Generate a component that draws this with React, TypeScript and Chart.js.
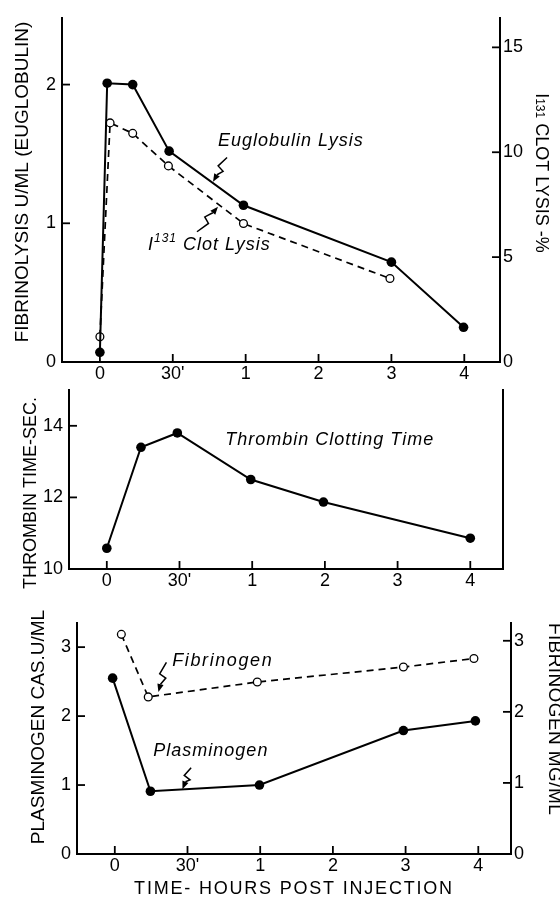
import React, { useEffect, useRef } from 'react';
import { Chart, registerables } from 'chart.js';

Chart.register(...registerables);

const W = 560;
const H = 898;
const FONT = "'Liberation Sans', Arial, sans-serif";

// ---- shared x axis (tick positions are evenly spaced, labels are non-linear in time) ----
const xTickPositions = [0, 1, 2, 3, 4, 5];
const xTickLabels = ['0', "30'", '1', '2', '3', '4'];

// ---- panel 1: fibrinolysis ----
const euglobulinX = [0, 0.1, 0.45, 0.95, 1.97, 4.0, 4.99];
const euglobulinUml = [0.07, 2.01, 2.0, 1.52, 1.13, 0.72, 0.25];
const clotLysisX = [0, 0.14, 0.45, 0.94, 1.97, 3.98];
const clotLysisPct = [1.2, 11.4, 10.9, 9.35, 6.6, 3.98];
const fibrinolysisTicks = [0, 1, 2];
const clotLysisTicks = [0, 5, 10, 15];

// ---- panel 2: thrombin clotting time ----
const thrombinX = [0, 0.47, 0.97, 1.98, 2.98, 5.0];
const thrombinSec = [10.58, 13.4, 13.8, 12.5, 11.87, 10.86];
const thrombinTicks = [10, 12, 14];

// ---- panel 3: plasminogen / fibrinogen ----
const plasminogenX = [-0.03, 0.49, 1.99, 3.97, 4.96];
const plasminogenCas = [2.55, 0.91, 1.0, 1.79, 1.93];
const fibrinogenX = [0.09, 0.46, 1.96, 3.97, 4.94];
const fibrinogenMg = [3.09, 2.21, 2.42, 2.63, 2.75];
const plasminogenTicks = [0, 1, 2, 3];
const fibrinogenTicks = [0, 1, 2, 3];

const pts = (xs: number[], ys: number[]) => xs.map((x, i) => ({ x, y: ys[i] }));

const solidSeries = (label: string, data: any[], yAxisID = 'y') => ({
  label,
  data,
  yAxisID,
  borderColor: '#000',
  borderWidth: 2,
  pointRadius: 4.8,
  pointBackgroundColor: '#000',
  pointBorderColor: '#000',
  pointBorderWidth: 0,
  tension: 0,
  fill: false,
});

const dashedSeries = (label: string, data: any[], yAxisID = 'y1') => ({
  label,
  data,
  yAxisID,
  borderColor: '#000',
  borderWidth: 1.7,
  borderDash: [7, 5],
  pointRadius: 3.9,
  pointBackgroundColor: '#fff',
  pointBorderColor: '#000',
  pointBorderWidth: 1.3,
  tension: 0,
  fill: false,
});

const tickFont = { family: FONT, size: 18, lineHeight: 1 };
const italic = `italic 18px ${FONT}`;
const upright = (s: number) => `${s}px ${FONT}`;

// inward tick marks for all axes
const tickMarks = {
  id: 'tickMarks',
  afterDraw(chart: any) {
    const ctx = chart.ctx;
    const a = chart.chartArea;
    const len = 8;
    ctx.save();
    ctx.strokeStyle = '#000';
    ctx.lineWidth = 1.8;
    Object.values(chart.scales).forEach((s: any) => {
      if (!s.options.display || !s.options.ticks.display) return;
      s.ticks.forEach((t: any) => {
        const p = s.getPixelForValue(t.value);
        ctx.beginPath();
        if (s.axis === 'x') {
          ctx.moveTo(p, a.bottom);
          ctx.lineTo(p, a.bottom - len);
        } else if (s.position === 'left') {
          ctx.moveTo(a.left, p);
          ctx.lineTo(a.left + len, p);
        } else {
          ctx.moveTo(a.right, p);
          ctx.lineTo(a.right - len, p);
        }
        ctx.stroke();
      });
    });
    ctx.restore();
  },
};

type Part = { t: string; font: string; dy?: number };

function drawRich(ctx: any, parts: Part[], x: number, y: number, angle: number, align: 'left' | 'center', spacing: number) {
  ctx.save();
  ctx.translate(x, y);
  ctx.rotate(angle);
  ctx.fillStyle = '#000';
  ctx.textAlign = 'left';
  ctx.textBaseline = 'middle';
  ctx.letterSpacing = spacing + 'px';
  const widths = parts.map((p) => {
    ctx.font = p.font;
    return ctx.measureText(p.t).width;
  });
  const total = widths.reduce((a, b) => a + b, 0);
  let cx = align === 'center' ? -total / 2 : 0;
  parts.forEach((p, i) => {
    ctx.font = p.font;
    ctx.fillText(p.t, cx, p.dy || 0);
    cx += widths[i];
  });
  ctx.restore();
}

function squiggle(ctx: any, x0: number, y0: number, x1: number, y1: number) {
  const dx = x1 - x0;
  const dy = y1 - y0;
  const L = Math.hypot(dx, dy);
  const ux = dx / L;
  const uy = dy / L;
  const nx = -uy;
  const ny = ux;
  const P = (t: number, o: number): [number, number] => [x0 + dx * t + nx * o, y0 + dy * t + ny * o];
  const head = 8;
  ctx.save();
  ctx.strokeStyle = '#000';
  ctx.fillStyle = '#000';
  ctx.lineWidth = 1.5;
  ctx.beginPath();
  ctx.moveTo(x0, y0);
  ctx.lineTo(...P(0.42, 3.5));
  ctx.lineTo(...P(0.5, -3.5));
  ctx.lineTo(x1 - ux * head, y1 - uy * head);
  ctx.stroke();
  ctx.beginPath();
  ctx.moveTo(x1, y1);
  ctx.lineTo(x1 - ux * head + nx * 3.2, y1 - uy * head + ny * 3.2);
  ctx.lineTo(x1 - ux * head - nx * 3.2, y1 - uy * head - ny * 3.2);
  ctx.closePath();
  ctx.fill();
  ctx.restore();
}

type Area = { left: number; top: number; right: number; bottom: number };

function panelConfig(o: {
  area: Area;
  xMin: number;
  xMax: number;
  y: { min: number; max: number; ticks: number[] };
  y1: { min: number; max: number; ticks: number[] | null };
  datasets: any[];
  overlay: (chart: any) => void;
}) {
  const xAxisH = 24;
  const border = { display: true, color: '#000', width: 2 };
  return {
    type: 'line',
    data: { datasets: o.datasets },
    options: {
      responsive: false,
      animation: false,
      events: [],
      layout: { padding: { top: o.area.top, left: 0, right: 0, bottom: H - o.area.bottom - xAxisH } },
      plugins: { legend: { display: false }, tooltip: { enabled: false } },
      scales: {
        x: {
          type: 'linear',
          position: 'bottom',
          min: o.xMin,
          max: o.xMax,
          afterBuildTicks: (s: any) => {
            s.ticks = xTickPositions.map((v) => ({ value: v }));
          },
          afterFit: (s: any) => {
            s.height = xAxisH;
          },
          ticks: {
            autoSkip: false,
            maxRotation: 0,
            padding: 3,
            color: '#000',
            font: tickFont,
            callback: (_v: any, i: number) => xTickLabels[i],
          },
          grid: { display: false, drawTicks: false },
          border,
        },
        y: {
          type: 'linear',
          position: 'left',
          min: o.y.min,
          max: o.y.max,
          afterBuildTicks: (s: any) => {
            s.ticks = o.y.ticks.map((v) => ({ value: v }));
          },
          afterFit: (s: any) => {
            s.width = o.area.left;
          },
          ticks: { padding: 6, color: '#000', font: tickFont },
          grid: { display: false, drawTicks: false },
          border,
        },
        y1: {
          type: 'linear',
          position: 'right',
          min: o.y1.min,
          max: o.y1.max,
          afterBuildTicks: (s: any) => {
            s.ticks = (o.y1.ticks || []).map((v) => ({ value: v }));
          },
          afterFit: (s: any) => {
            s.width = W - o.area.right;
          },
          ticks: { display: !!o.y1.ticks, padding: 3, color: '#000', font: tickFont },
          grid: { display: false, drawTicks: false },
          border,
        },
      },
    },
    plugins: [tickMarks, { id: 'overlay', afterDraw: o.overlay }],
  };
}

const config1 = () =>
  panelConfig({
    area: { left: 62, top: 18, right: 500, bottom: 362 },
    xMin: -0.52,
    xMax: 5.49,
    y: { min: 0, max: 2.48, ticks: fibrinolysisTicks },
    y1: { min: 0, max: 16.4, ticks: clotLysisTicks },
    datasets: [
      solidSeries('Euglobulin Lysis', pts(euglobulinX, euglobulinUml), 'y'),
      dashedSeries('I131 Clot Lysis', pts(clotLysisX, clotLysisPct), 'y1'),
    ],
    overlay: (chart: any) => {
      const ctx = chart.ctx;
      const X = (v: number) => chart.scales.x.getPixelForValue(v);
      const Y = (v: number) => chart.scales.y.getPixelForValue(v);
      drawRich(ctx, [{ t: 'FIBRINOLYSIS U/ML (EUGLOBULIN)', font: upright(19) }], 23, 182, -Math.PI / 2, 'center', 0);
      drawRich(
        ctx,
        [
          { t: 'I', font: upright(18) },
          { t: '131', font: upright(12), dy: 2 },
          { t: ' CLOT LYSIS -%', font: upright(18) },
        ],
        541,
        173,
        Math.PI / 2,
        'center',
        0
      );
      drawRich(ctx, [{ t: 'Euglobulin Lysis', font: italic }], X(1.62), Y(1.59), 0, 'left', 1);
      squiggle(ctx, X(1.745), Y(1.474), X(1.552), Y(1.3));
      drawRich(
        ctx,
        [
          { t: 'I', font: italic },
          { t: '131', font: `italic 12px ${FONT}`, dy: -7 },
          { t: ' Clot Lysis', font: italic },
        ],
        X(0.66),
        Y(0.84),
        0,
        'left',
        1
      );
      squiggle(ctx, X(1.332), Y(0.939), X(1.62), Y(1.12));
    },
  });

const config2 = () =>
  panelConfig({
    area: { left: 69, top: 390, right: 503, bottom: 569 },
    xMin: -0.52,
    xMax: 5.45,
    y: { min: 10, max: 15, ticks: thrombinTicks },
    y1: { min: 0, max: 1, ticks: null },
    datasets: [solidSeries('Thrombin Clotting Time', pts(thrombinX, thrombinSec), 'y')],
    overlay: (chart: any) => {
      const ctx = chart.ctx;
      const X = (v: number) => chart.scales.x.getPixelForValue(v);
      const Y = (v: number) => chart.scales.y.getPixelForValue(v);
      drawRich(ctx, [{ t: 'THROMBIN TIME-SEC.', font: upright(18) }], 31, 493, -Math.PI / 2, 'center', 0);
      drawRich(ctx, [{ t: 'Thrombin Clotting Time', font: italic }], X(1.63), Y(13.6), 0, 'left', 1);
    },
  });

const config3 = () =>
  panelConfig({
    area: { left: 77, top: 623, right: 511, bottom: 854 },
    xMin: -0.52,
    xMax: 5.45,
    y: { min: 0, max: 3.35, ticks: plasminogenTicks },
    y1: { min: 0, max: 3.25, ticks: fibrinogenTicks },
    datasets: [
      solidSeries('Plasminogen', pts(plasminogenX, plasminogenCas), 'y'),
      dashedSeries('Fibrinogen', pts(fibrinogenX, fibrinogenMg), 'y1'),
    ],
    overlay: (chart: any) => {
      const ctx = chart.ctx;
      const X = (v: number) => chart.scales.x.getPixelForValue(v);
      const Y = (v: number) => chart.scales.y.getPixelForValue(v);
      drawRich(ctx, [{ t: 'PLASMINOGEN CAS.U/ML', font: upright(19) }], 39, 727, -Math.PI / 2, 'center', 0);
      drawRich(ctx, [{ t: 'FIBRINOGEN MG/ML', font: upright(19) }], 554, 719, Math.PI / 2, 'center', 0.4);
      drawRich(ctx, [{ t: 'TIME- HOURS POST INJECTION', font: upright(18) }], 294, 889, 0, 'center', 1.8);
      drawRich(ctx, [{ t: 'Fibrinogen', font: italic }], X(0.79), Y(2.8), 0, 'left', 1.6);
      squiggle(ctx, X(0.71), Y(2.78), X(0.6), Y(2.35));
      drawRich(ctx, [{ t: 'Plasminogen', font: italic }], X(0.53), Y(1.49), 0, 'left', 1);
      squiggle(ctx, X(1.05), Y(1.25), X(0.93), Y(0.94));
    },
  });

export default function App() {
  const r1 = useRef<HTMLCanvasElement>(null);
  const r2 = useRef<HTMLCanvasElement>(null);
  const r3 = useRef<HTMLCanvasElement>(null);

  useEffect(() => {
    const charts: Chart[] = [];
    charts.push(new Chart(r1.current as any, config1() as any));
    charts.push(new Chart(r2.current as any, config2() as any));
    charts.push(new Chart(r3.current as any, config3() as any));
    return () => charts.forEach((c) => c.destroy());
  }, []);

  const cs: React.CSSProperties = { position: 'absolute', left: 0, top: 0, width: W, height: H };
  return (
    <div style={{ position: 'absolute', left: 0, top: 0, width: W, height: H, background: '#fff' }}>
      <canvas ref={r1} width={W} height={H} style={cs} />
      <canvas ref={r2} width={W} height={H} style={cs} />
      <canvas ref={r3} width={W} height={H} style={cs} />
    </div>
  );
}
